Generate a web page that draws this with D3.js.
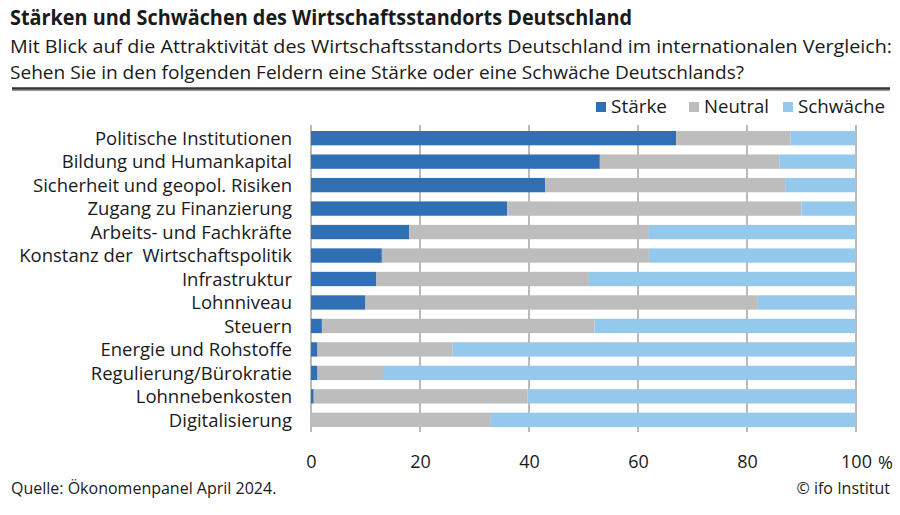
<!DOCTYPE html>
<html>
<head>
<meta charset="utf-8">
<script src="https://cdn.jsdelivr.net/npm/d3@7"></script>
<style>
  html, body { margin: 0; padding: 0; background: #fff; }
  svg { display: block; font-family: "Open Sans", sans-serif; }
  text { white-space: pre; }
</style>
</head>
<body>
<svg id="chart" width="900" height="515"></svg>
<script>
const categories = [
  "Politische Institutionen",
  "Bildung und Humankapital",
  "Sicherheit und geopol. Risiken",
  "Zugang zu Finanzierung",
  "Arbeits- und Fachkräfte",
  "Konstanz der  Wirtschaftspolitik",
  "Infrastruktur",
  "Lohnniveau",
  "Steuern",
  "Energie und Rohstoffe",
  "Regulierung/Bürokratie",
  "Lohnnebenkosten",
  "Digitalisierung"
];
const staerke = [67, 53, 43, 36, 18, 13, 12, 10, 2, 1.2, 1.2, 0.5, 0];
const neutral = [21, 33, 44, 54, 44, 49, 39, 72, 50, 24.8, 12, 39.2, 33];
const schwaeche = [12, 14, 13, 10, 38, 38, 49, 18, 48, 74, 86.8, 60.3, 67];
const seriesNames = ["Stärke", "Neutral", "Schwäche"];
const seriesColors = ["#2f6fb4", "#bdbdbd", "#95c8ed"];
const tickValues = [0, 20, 40, 60, 80, 100];

const svg = d3.select("#chart");

// Titles
svg.append("text").attr("x", 10).attr("y", 25)
  .attr("font-size", 21).attr("font-weight", 700).attr("fill", "#1a1a1a")
  .attr("textLength", 622).attr("lengthAdjust", "spacingAndGlyphs")
  .text("Stärken und Schwächen des Wirtschaftsstandorts Deutschland");
svg.append("text").attr("x", 10).attr("y", 53)
  .attr("font-size", 18).attr("fill", "#1a1a1a")
  .attr("textLength", 882).attr("lengthAdjust", "spacingAndGlyphs")
  .text("Mit Blick auf die Attraktivität des Wirtschaftsstandorts Deutschland im internationalen Vergleich:");
svg.append("text").attr("x", 10).attr("y", 79)
  .attr("font-size", 18).attr("fill", "#1a1a1a")
  .attr("textLength", 734).attr("lengthAdjust", "spacingAndGlyphs")
  .text("Sehen Sie in den folgenden Feldern eine Stärke oder eine Schwäche Deutschlands?");

// Rule
svg.append("line").attr("x1", 12).attr("x2", 890).attr("y1", 88.5).attr("y2", 88.5)
  .attr("stroke", "#333").attr("stroke-width", 2.5);
svg.append("line").attr("x1", 12).attr("x2", 890).attr("y1", 90.5).attr("y2", 90.5)
  .attr("stroke", "#999").attr("stroke-width", 1);

// Legend
const legendX = [596, 689, 783];
seriesNames.forEach((name, i) => {
  svg.append("rect").attr("x", legendX[i]).attr("y", 102).attr("width", 10).attr("height", 10)
    .attr("fill", seriesColors[i]);
  svg.append("text").attr("x", legendX[i] + 15).attr("y", 113)
    .attr("font-size", 18.5).attr("fill", "#1a1a1a")
    .attr("textLength", [56, 65, 87][i]).attr("lengthAdjust", "spacingAndGlyphs")
    .text(name);
});

// Scales
const x = d3.scaleLinear().domain([0, 100]).range([311, 856]);
const y = d3.scaleBand().domain(categories).range([126.3, 431.7]).paddingInner(0.39).paddingOuter(0.2);

// Gridlines
svg.append("g").selectAll("line").data(tickValues).join("line")
  .attr("x1", d => x(d)).attr("x2", d => x(d))
  .attr("y1", 125).attr("y2", 432)
  .attr("stroke", "#777").attr("stroke-width", 1);

// Bars
const rows = categories.map((c, i) => ({ c, vals: [staerke[i], neutral[i], schwaeche[i]] }));
const stackData = [];
rows.forEach(r => {
  let acc = 0;
  r.vals.forEach((v, k) => {
    stackData.push({ c: r.c, k, x0: acc, x1: acc + v });
    acc += v;
  });
});
svg.append("g").selectAll("rect").data(stackData).join("rect")
  .attr("x", d => x(d.x0))
  .attr("width", d => Math.max(0, x(d.x1) - x(d.x0)))
  .attr("y", d => y(d.c))
  .attr("height", y.bandwidth())
  .attr("fill", d => seriesColors[d.k]);

// Category labels
svg.append("g").selectAll("text").data(categories).join("text")
  .attr("x", 292)
  .attr("y", d => y(d) + y.bandwidth() / 2)
  .attr("dy", "0.36em")
  .attr("text-anchor", "end")
  .attr("font-size", 18.5).attr("fill", "#1a1a1a")
  .text(d => d);

// X axis labels
const xAxis = d3.axisBottom(x).tickValues(tickValues).tickSize(0).tickPadding(0);
const gx = svg.append("g").attr("transform", "translate(0,455)").call(xAxis);
gx.select(".domain").remove();
gx.selectAll("text").attr("font-size", 18).attr("fill", "#1a1a1a")
  .attr("font-family", "Open Sans, sans-serif");
svg.append("text").attr("x", 878).attr("y", 469).attr("font-size", 18).attr("fill", "#1a1a1a").text("%");

// Footer
svg.append("text").attr("x", 11).attr("y", 494).attr("font-size", 16).attr("fill", "#1a1a1a")
  .text("Quelle: Ökonomenpanel April 2024.");
svg.append("text").attr("x", 890).attr("y", 494).attr("text-anchor", "end")
  .attr("font-size", 16).attr("fill", "#1a1a1a").text("© ifo Institut");
</script>
</body>
</html>
